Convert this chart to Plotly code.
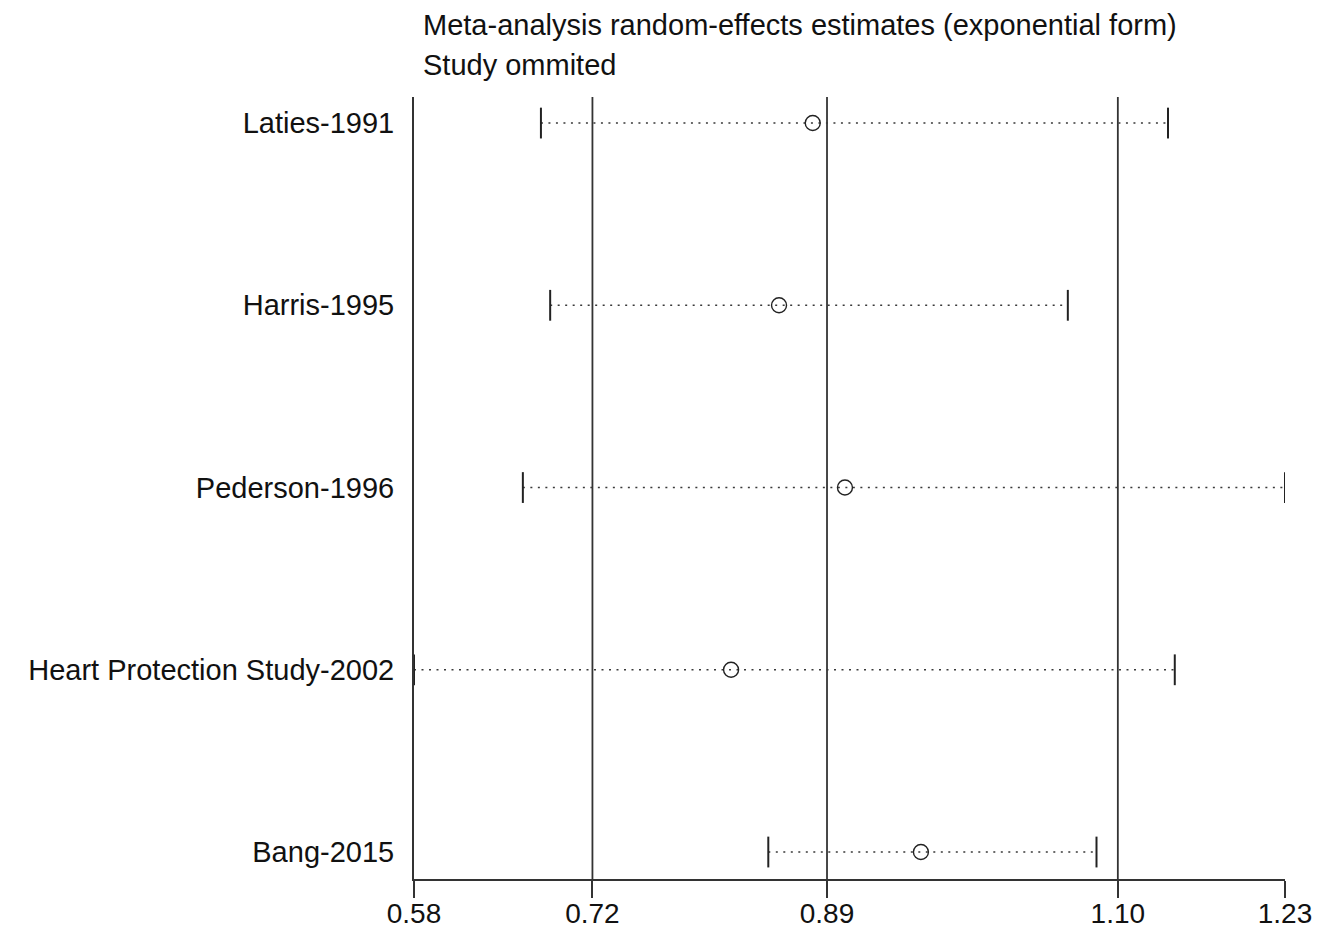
import plotly.graph_objects as go

# Influence analysis: pooled estimate with each study omitted in turn
studies = ["Laties-1991", "Harris-1995", "Pederson-1996",
           "Heart Protection Study-2002", "Bang-2015"]
estimate = [0.8779, 0.8531, 0.9016, 0.8178, 0.9575]
ci_lower = [0.6779, 0.6847, 0.6646, 0.5845, 0.8452]
ci_upper = [1.1393, 1.0656, 1.2254, 1.1443, 1.0867]

# Overall random-effects estimate (lower CI, estimate, upper CI)
overall = [0.7158, 0.8884, 1.1024]

# Axis ticks: min lower CI, overall CI and estimate, max upper CI
tick_values = [0.5845, 0.7158, 0.8884, 1.1024, 1.2254]
tick_labels = ["0.58", "0.72", "0.89", "1.10", "1.23"]

title_lines = ["Meta-analysis random-effects estimates (exponential form)",
               "Study ommited"]

FONT = "Liberation Sans, Arial, sans-serif"
INK = "#222222"
n = len(studies)
rows = [n - i for i in range(n)]  # first study at the top

fig = go.Figure()

# Dotted confidence-interval segments
seg_x, seg_y = [], []
for lo, hi, r in zip(ci_lower, ci_upper, rows):
    seg_x += [lo, hi, None]
    seg_y += [r, r, None]
fig.add_trace(go.Scatter(
    x=seg_x, y=seg_y, mode="lines",
    line=dict(color="#3a3a3a", width=1.6, dash="2px,5.5px"),
    hoverinfo="skip", showlegend=False))

# End caps of the intervals
fig.add_trace(go.Scatter(
    x=ci_lower + ci_upper, y=rows + rows, mode="markers",
    marker=dict(symbol="line-ns-open", size=22, color=INK,
                line=dict(color=INK, width=2)),
    hoverinfo="skip", showlegend=False))

# Point estimates
fig.add_trace(go.Scatter(
    x=estimate, y=rows, mode="markers",
    marker=dict(symbol="circle-open", size=15, color=INK,
                line=dict(color=INK, width=1.4)),
    showlegend=False))

# Vertical reference lines at the overall estimate and its CI
for v in overall:
    fig.add_shape(type="line", xref="x", yref="paper",
                  x0=v, x1=v, y0=0, y1=1,
                  line=dict(color="#333333", width=1.8), layer="below")

for i, txt in enumerate(title_lines):
    fig.add_annotation(text=txt, xref="paper", yref="paper",
                       x=0.0084, y=1 + (0.092 if i == 0 else 0.041),
                       xanchor="left", yanchor="middle", showarrow=False,
                       font=dict(family=FONT, size=29, color="#111111"))

fig.update_layout(
    width=1327, height=931,
    margin=dict(l=414, r=42, t=97, b=52),
    paper_bgcolor="white", plot_bgcolor="white",
    font=dict(family=FONT, size=29, color="#111111"),
    xaxis=dict(range=[tick_values[0], tick_values[-1]],
               tickvals=tick_values, ticktext=tick_labels,
               showgrid=False, zeroline=False, automargin=False,
               showline=True, linecolor="#333333", linewidth=2,
               ticks="outside", ticklen=17, tickwidth=2, tickcolor="#333333",
               ticklabelstandoff=-9,
               tickfont=dict(size=28)),
    yaxis=dict(range=[0.852, 5.143],
               tickvals=rows, ticktext=studies,
               showgrid=False, zeroline=False, automargin=False,
               showline=True, linecolor="#333333", linewidth=2,
               ticks="", ticklabelstandoff=12,
               tickfont=dict(size=29)),
)

fig.write_html("out.html")
